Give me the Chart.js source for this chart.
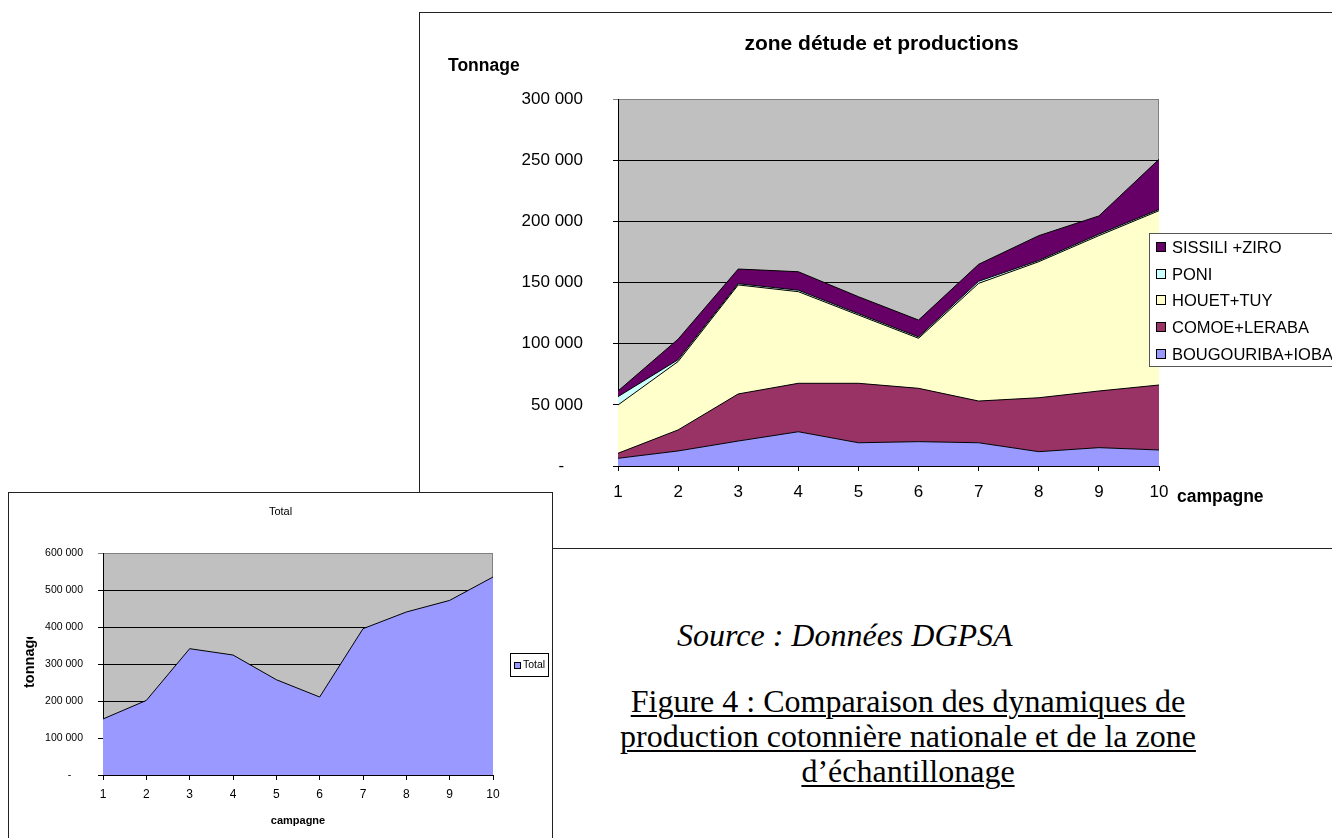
<!DOCTYPE html>
<html lang="fr">
<head>
<meta charset="utf-8">
<title>Production cotonnière</title>
<script src="https://cdn.jsdelivr.net/npm/chart.js@4.4.1/dist/chart.umd.min.js"></script>
<style>
  html, body { margin: 0; padding: 0; background: #fff; }
  body { width: 1332px; height: 838px; overflow: hidden; position: relative; }
  #zoneFrame { position: absolute; left: 419px; top: 12px; width: 1000px; height: 537px;
               border: 1.5px solid #222; box-sizing: border-box; background: #fff; }
  #zoneCanvas { position: absolute; left: 420px; top: 14px; }
  #totalFrame { position: absolute; left: 8px; top: 492px; width: 545px; height: 400px;
                border: 1.5px solid #222; box-sizing: border-box; background: #fff; z-index: 2; }
  #totalCanvas { position: absolute; left: 10px; top: 494px; z-index: 3; }
  .note { position: absolute; font-family: "Liberation Serif", "Times New Roman", serif;
          font-size: 32px; line-height: 35px; color: #000; white-space: nowrap; }
  #source { left: 677px; top: 618px; font-style: italic; }
  #caption { left: 558px; top: 684px; width: 700px; text-align: center; text-decoration: underline;
             text-underline-offset: 3px; text-decoration-thickness: 1.5px; }
</style>
</head>
<body>
<div id="zoneFrame"></div>
<canvas id="zoneCanvas" width="912" height="534"></canvas>
<div id="totalFrame"></div>
<canvas id="totalCanvas" width="541" height="344"></canvas>
<div class="note" id="source">Source : Données DGPSA</div>
<div class="note" id="caption">Figure 4 : Comparaison des dynamiques de<br>production cotonnière nationale et de la zone<br>d’échantillonage</div>

<script>
// Campaigns 1..10
const campagnes = ['1', '2', '3', '4', '5', '6', '7', '8', '9', '10'];

// Production by zone (tonnes), stacked bottom to top
const bougouribaIoba = [6300, 12300, 20400, 28000, 19000, 19900, 19000, 11700, 15000, 13100];
const comoeLeraba    = [4100, 17200, 38500, 39600, 48600, 43600, 34100, 44100, 46300, 53100];
const houetTuy       = [39500, 55900, 89100, 74900, 55800, 40900, 96200, 111200, 127000, 142500];
const poni           = [6800, 1500, 1000, 1200, 1100, 1100, 1700, 1000, 1200, 1000];
const sissiliZiro    = [4600, 16800, 12000, 15100, 13900, 13800, 13900, 20300, 14900, 41000];

// National total (tonnes)
const totalNational = [151400, 201600, 341400, 324300, 257600, 210800, 395400, 440500, 471900, 535100];

// Axis ranges
const zoneMax = 300000, zoneStep = 50000;
const totalMax = 600000, totalStep = 100000;

const FONT = "'Liberation Sans', Arial, sans-serif";
Chart.defaults.font.family = FONT;
Chart.defaults.color = '#000';
Chart.defaults.animation = false;

const spaced = v => String(v).replace(/\B(?=(\d{3})+(?!\d))/g, ' ');

// gray plot area with a thin darker frame
const plotBackground = {
  id: 'plotBackground',
  beforeDraw(chart) {
    const { ctx, chartArea: a } = chart;
    ctx.save();
    ctx.fillStyle = '#C0C0C0';
    ctx.fillRect(a.left, a.top, a.right - a.left, a.bottom - a.top);
    ctx.strokeStyle = '#808080';
    ctx.lineWidth = 1;
    ctx.beginPath();
    ctx.moveTo(a.left, a.top + 0.5);
    ctx.lineTo(a.right - 0.5, a.top + 0.5);
    ctx.lineTo(a.right - 0.5, a.bottom);
    ctx.stroke();
    ctx.restore();
  }
};

// titles and legend of the zone chart
const zoneText = {
  id: 'zoneText',
  afterDraw(chart) {
    const { ctx, chartArea: a } = chart;
    ctx.save();
    ctx.fillStyle = '#000';
    ctx.textAlign = 'center';
    ctx.textBaseline = 'middle';
    ctx.font = `bold 21px ${FONT}`;
    ctx.fillText('zone détude et productions', (a.left + a.right) / 2 - 7, 30);
    ctx.textAlign = 'left';
    ctx.textBaseline = 'alphabetic';
    ctx.font = `bold 17.5px ${FONT}`;
    ctx.fillText('Tonnage', 28, 57);
    ctx.fillText('campagne', a.right + 18, a.bottom + 36);

    const items = chart.data.datasets.map(d => ({ label: d.label, color: d.backgroundColor })).reverse();
    const bx = Math.round(a.right - 10), by = Math.round(a.top + 134);
    ctx.fillStyle = '#fff';
    ctx.fillRect(bx, by, 300, 133);
    ctx.strokeStyle = '#555';
    ctx.lineWidth = 1;
    ctx.strokeRect(bx + 0.5, by + 0.5, 300, 133);
    ctx.font = `16.5px ${FONT}`;
    ctx.textBaseline = 'middle';
    items.forEach((it, i) => {
      const cy = Math.round(by + 14 + i * 26.67);
      ctx.fillStyle = it.color;
      ctx.fillRect(bx + 7, cy - 5, 10, 10);
      ctx.strokeStyle = '#000';
      ctx.strokeRect(bx + 7.5, cy - 4.5, 9, 9);
      ctx.fillStyle = '#000';
      ctx.fillText(it.label, bx + 23, cy + 1);
    });
    ctx.restore();
  }
};

// titles and legend of the national total chart
const totalText = {
  id: 'totalText',
  afterDraw(chart) {
    const { ctx, chartArea: a, width } = chart;
    ctx.save();
    ctx.fillStyle = '#000';
    ctx.textAlign = 'center';
    ctx.textBaseline = 'middle';
    ctx.font = `11px ${FONT}`;
    ctx.fillText('Total', width / 2, 18);
    ctx.font = `bold 11px ${FONT}`;
    ctx.fillText('campagne', (a.left + a.right) / 2, a.bottom + 46);

    // vertical axis title, clipped at the top by its text box
    ctx.save();
    ctx.beginPath();
    ctx.rect(0, 143, 60, 200);
    ctx.clip();
    ctx.translate(24, 194);
    ctx.rotate(-Math.PI / 2);
    ctx.textAlign = 'left';
    ctx.textBaseline = 'alphabetic';
    ctx.font = `bold 14.5px ${FONT}`;
    ctx.fillText('tonnage', 0, 0);
    ctx.restore();

    const ds = chart.data.datasets[0];
    const bx = Math.round(a.right + 17), by = Math.round(a.top + 100);
    ctx.fillStyle = '#fff';
    ctx.fillRect(bx, by, 38, 23);
    ctx.strokeStyle = '#000';
    ctx.lineWidth = 1;
    ctx.strokeRect(bx + 0.5, by + 0.5, 38, 23);
    ctx.fillStyle = ds.backgroundColor;
    ctx.fillRect(bx + 4, by + 9, 6, 6);
    ctx.strokeRect(bx + 4.5, by + 9.5, 6, 6);
    ctx.fillStyle = '#000';
    ctx.textAlign = 'left';
    ctx.textBaseline = 'middle';
    ctx.font = `10.5px ${FONT}`;
    ctx.fillText(ds.label, bx + 13, by + 12);
    ctx.restore();
  }
};

const areaStyle = (label, data, color, fill) => ({
  label, data, fill,
  backgroundColor: color,
  borderColor: '#000',
  borderWidth: 1,
  pointRadius: 0,
  tension: 0
});

new Chart(document.getElementById('zoneCanvas'), {
  type: 'line',
  data: {
    labels: campagnes,
    datasets: [
      areaStyle('BOUGOURIBA+IOBA', bougouribaIoba, '#9999FF', 'origin'),
      areaStyle('COMOE+LERABA', comoeLeraba, '#993366', '-1'),
      areaStyle('HOUET+TUY', houetTuy, '#FFFFCC', '-1'),
      areaStyle('PONI', poni, '#CCFFFF', '-1'),
      areaStyle('SISSILI +ZIRO', sissiliZiro, '#660066', '-1')
    ]
  },
  options: {
    responsive: false,
    devicePixelRatio: 1,
    layout: { padding: { top: 85, right: 173, left: 0, bottom: 0 } },
    plugins: { legend: { display: false }, tooltip: { enabled: false } },
    scales: {
      x: {
        offset: false,
        afterFit: s => { s.height = 82; },
        grid: { drawOnChartArea: false, drawTicks: true, tickLength: 5, color: '#000' },
        border: { display: true, color: '#000' },
        ticks: { font: { size: 17 }, padding: 11, maxRotation: 0 }
      },
      y: {
        stacked: true,
        min: 0, max: zoneMax,
        afterFit: s => { s.width = 198; },
        grid: { color: c => (c.tick && c.tick.value === zoneMax ? '#808080' : '#000'), tickLength: 5 },
        border: { display: true, color: '#000' },
        ticks: {
          stepSize: zoneStep, padding: 30, font: { size: 17 },
          callback: v => (v === 0 ? '-    ' : spaced(v))
        }
      }
    }
  },
  plugins: [plotBackground, zoneText]
});

new Chart(document.getElementById('totalCanvas'), {
  type: 'line',
  data: {
    labels: campagnes,
    datasets: [areaStyle('Total', totalNational, '#9999FF', 'origin')]
  },
  options: {
    responsive: false,
    devicePixelRatio: 1,
    layout: { padding: { top: 59, right: 58, left: 0, bottom: 0 } },
    plugins: { legend: { display: false }, tooltip: { enabled: false } },
    scales: {
      x: {
        offset: false,
        afterFit: s => { s.height = 63; },
        grid: { drawOnChartArea: false, drawTicks: true, tickLength: 5, color: '#000' },
        border: { display: true, color: '#000' },
        ticks: { font: { size: 12 }, padding: 7, maxRotation: 0 }
      },
      y: {
        min: 0, max: totalMax,
        afterFit: s => { s.width = 93; },
        grid: { color: c => (c.tick && c.tick.value === totalMax ? '#808080' : '#000'), tickLength: 5 },
        border: { display: true, color: '#000' },
        ticks: {
          stepSize: totalStep, padding: 15, font: { size: 10.5 },
          callback: v => (v === 0 ? '-    ' : spaced(v))
        }
      }
    }
  },
  plugins: [plotBackground, totalText]
});
</script>
</body>
</html>
